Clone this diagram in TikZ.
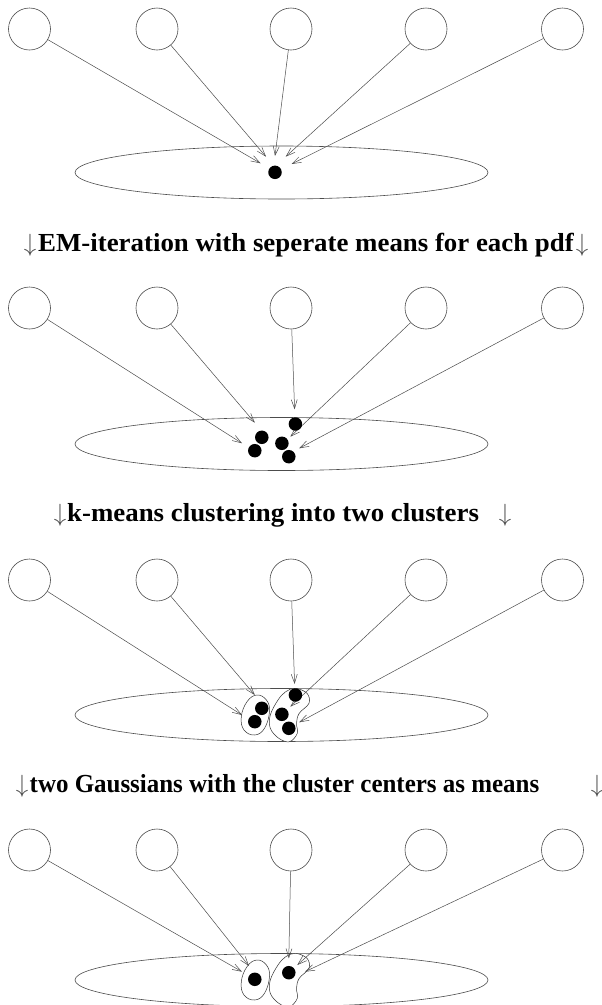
\documentclass[tikz,border=0pt]{standalone}
\usepackage{fontspec}
\setmainfont{Liberation Serif}
\usetikzlibrary{shapes.geometric,arrows.meta}
\begin{document}
\begin{tikzpicture}[x=1pt,y=-1pt,
  src/.style={circle,draw=black!70,line width=0.6pt,minimum size=42pt,inner sep=0pt},
  base/.style={ellipse,draw=black!70,line width=0.6pt,minimum width=413pt,minimum height=53pt,inner sep=0pt},
  dot/.style={circle,fill=black,minimum size=13.5pt,inner sep=0pt},
  arr/.style={draw=black!70,line width=0.5pt,-{Straight Barb[length=9pt,width=6pt]}},
  blob/.style={draw=black!80,line width=0.5pt,fill=white},
  lab/.style={font=\fontsize{26}{26}\selectfont\bfseries,anchor=base west,inner sep=0pt},
  dn/.style={font=\fontsize{26}{26}\selectfont,anchor=base,inner sep=0pt,text=black!70}]
\fill[white] (0,0) rectangle (602,1005);
\useasboundingbox (0,0) rectangle (602,1005);

% ---------- panel 1 ----------
\foreach \x [count=\i] in {29.5,157,291,426,562.5} \node[src] (p1c\i) at (\x,29) {};
\node[base] (p1e) at (281.5,172.5) {};
\node[dot] (p1d) at (275,172.3) {};
\foreach \i/\tx/\ty in {1/260.6/163.3,2/266/156.7,3/275/156,4/285.7/156.7,5/291.5/164}
  {\coordinate (p1t\i) at (\tx,\ty); \draw[arr] (p1c\i) -- (p1t\i);}

% label 1
\node[dn] (l1a) at (30,251.5) {$\downarrow$};
\node[lab] (l1) at (38,251.5) {\scalebox{1.033}[1]{EM-iteration with seperate means for each pdf}};
\node[dn] (l1b) at (582,251.5) {$\downarrow$};

% ---------- panel 2 ----------
\foreach \x [count=\i] in {29.5,157,291,426,562.5} \node[src] (p2c\i) at (\x,308) {};
\node[base] (p2e) at (281.5,444) {};
\foreach \i/\tx/\ty in {1/242/443.3,2/254.8/422.7,3/294.6/409.3,4/290.3/436.7,5/299.2/448.3}
  {\coordinate (p2t\i) at (\tx,\ty); \draw[arr] (p2c\i) -- (p2t\i);}
\foreach \i/\dx/\dy in {1/261.8/437.3,2/254.8/450.7,3/295.4/424,4/281.9/443.3,5/288.8/456.7}
  \node[dot] (p2d\i) at (\dx,\dy) {};

% label 2
\node[dn] (l2a) at (60,521) {$\downarrow$};
\node[lab] (l2) at (67,521) {\scalebox{1.033}[1]{k-means clustering into two clusters}};
\node[dn] (l2b) at (505,521) {$\downarrow$};

% ---------- panel 3 ----------
\foreach \x [count=\i] in {29.5,157,291,426,562.5} \node[src] (p3c\i) at (\x,580) {};
\node[base] (p3e) at (281.5,715) {};
\draw[blob] plot[smooth cycle,tension=0.7] coordinates {(256.8,695) (266.4,700) (269.5,711.7) (264.5,728.3) (254.8,735) (244,730) (241.3,716.7) (247,701.7)};
\draw[blob] plot[smooth cycle,tension=0.6] coordinates {(295.4,688.3) (307,693.3) (309,703.3) (299.2,713.3) (296.5,723.3) (297.3,733.3) (289.6,741.7) (278.8,738.3) (270.3,728.3) (270.3,715) (278,700) (285.7,691.7)};
\foreach \i/\tx/\ty in {1/242/715,2/254.8/695,3/294.6/684,4/290.3/706.7,5/299.2/722.3}
  {\coordinate (p3t\i) at (\tx,\ty); \draw[arr] (p3c\i) -- (p3t\i);}
\foreach \i/\dx/\dy in {1/261.8/708.3,2/254.8/721.7,3/295.4/695,4/281.9/714.3,5/288.8/728.3}
  \node[dot] (p3d\i) at (\dx,\dy) {};

% label 3
\node[dn] (l3a) at (22,792) {$\downarrow$};
\node[lab] (l3) at (29.5,792) {\scalebox{0.96}[1]{two Gaussians with the cluster centers as means}};
\node[dn] (l3b) at (597,792) {$\downarrow$};

% ---------- panel 4 ----------
\foreach \x [count=\i] in {29.5,157,291,426,562.5} \node[src] (p4c\i) at (\x,850) {};
\node[base] (p4e) at (281.5,980) {};
\begin{scope}[shift={(0,265)}]
\draw[blob] plot[smooth cycle,tension=0.7] coordinates {(256.8,695) (266.4,700) (269.5,711.7) (264.5,728.3) (254.8,735) (244,730) (241.3,716.7) (247,701.7)};
\draw[blob] plot[smooth cycle,tension=0.6] coordinates {(295.4,688.3) (307,693.3) (309,703.3) (299.2,713.3) (296.5,723.3) (297.3,733.3) (289.6,741.7) (278.8,738.3) (270.3,728.3) (270.3,715) (278,700) (285.7,691.7)};
\end{scope}
\foreach \i/\tx/\ty in {1/242/971.7,2/249/966,3/288.8/958.3,4/297.3/965,5/305/971.7}
  {\coordinate (p4t\i) at (\tx,\ty); \draw[arr] (p4c\i) -- (p4t\i);}
\node[dot] (p4d1) at (254.8,979.3) {};
\node[dot] (p4d2) at (288.8,972.7) {};
\end{tikzpicture}
\end{document}
